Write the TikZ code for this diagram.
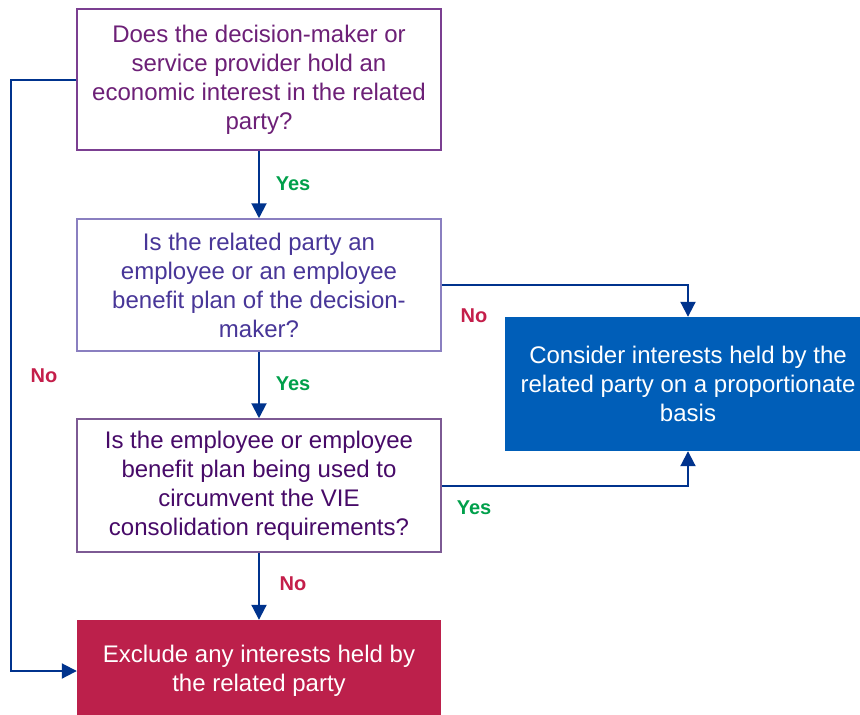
\documentclass[tikz,border=0pt]{standalone}
\usepackage{fontspec}
\setmainfont{Liberation Sans}
\usetikzlibrary{arrows.meta}
\definecolor{qtxtA}{HTML}{6D2077}
\definecolor{qbrdA}{HTML}{7B3F91}
\definecolor{qtxtB}{HTML}{483698}
\definecolor{qbrdB}{HTML}{8A7FC0}
\definecolor{qtxtC}{HTML}{470A68}
\definecolor{qbrdC}{HTML}{7D5A94}
\definecolor{arrowblue}{HTML}{00338D}
\definecolor{fillblue}{HTML}{005EB8}
\definecolor{fillred}{HTML}{BC204B}
\definecolor{lblgreen}{HTML}{00A04B}
\definecolor{lblred}{HTML}{C41E4A}
\tikzset{
  qbox/.style={rectangle, line width=1.5pt, align=center, minimum width=364pt,
    font=\fontsize{24}{29}\selectfont, inner sep=0pt},
  rbox/.style={rectangle, align=center, text=white, draw=none,
    font=\fontsize{24}{29}\selectfont, inner sep=0pt},
  conn/.style={draw=arrowblue, line width=2pt, -{Triangle[length=15pt,width=15pt]}},
  yeslbl/.style={text=lblgreen, font=\fontsize{20}{24}\selectfont\bfseries},
  nolbl/.style={text=lblred, font=\fontsize{20}{24}\selectfont\bfseries}
}
\begin{document}
\begin{tikzpicture}[x=1pt,y=-1pt]
\path[use as bounding box, clip] (0,0) rectangle (860,715);
\fill[white] (0,0) rectangle (860,715);

\node[qbox, draw=qbrdA, text=qtxtA, minimum height=141pt] (b1) at (259,79.5)
  {Does the decision-maker or\\service provider hold an\\economic interest in the related\\party?};
\node[qbox, draw=qbrdB, text=qtxtB, minimum height=132pt] (b2) at (259,285)
  {Is the related party an\\employee or an employee\\benefit plan of the decision-\\maker?};
\node[qbox, draw=qbrdC, text=qtxtC, minimum height=133pt] (b3) at (259,485.5)
  {Is the employee or employee\\benefit plan being used to\\circumvent the VIE\\consolidation requirements?};
\node[rbox, fill=fillblue, minimum width=366pt, minimum height=134pt] (b4) at (688,384)
  {Consider interests held by the\\related party on a proportionate\\basis};
\node[rbox, fill=fillred, minimum width=364pt, minimum height=102pt] (b5) at (259,671)
  {Exclude any interests held by\\the related party};

\coordinate (lft) at (11,376);

\draw[conn] (b1.south) -- (b2.north);
\draw[conn] (b2.south) -- (b3.north);
\draw[conn] (b3.south) -- (b5.north);
\draw[conn] (b2.east) -| (b4.north);
\draw[conn] (b3.east) -| (b4.south);
\draw[conn] (b1.west) -- (b1.west -| lft) |- (b5.west);

\node[yeslbl] (y1) at (293,184) {Yes};
\node[yeslbl] (y2) at (293,384) {Yes};
\node[nolbl] (n1) at (293,584) {No};
\node[nolbl] (n2) at (474,316) {No};
\node[yeslbl] (y3) at (474,508) {Yes};
\node[nolbl] (n3) at (44,376) {No};
\end{tikzpicture}
\end{document}
